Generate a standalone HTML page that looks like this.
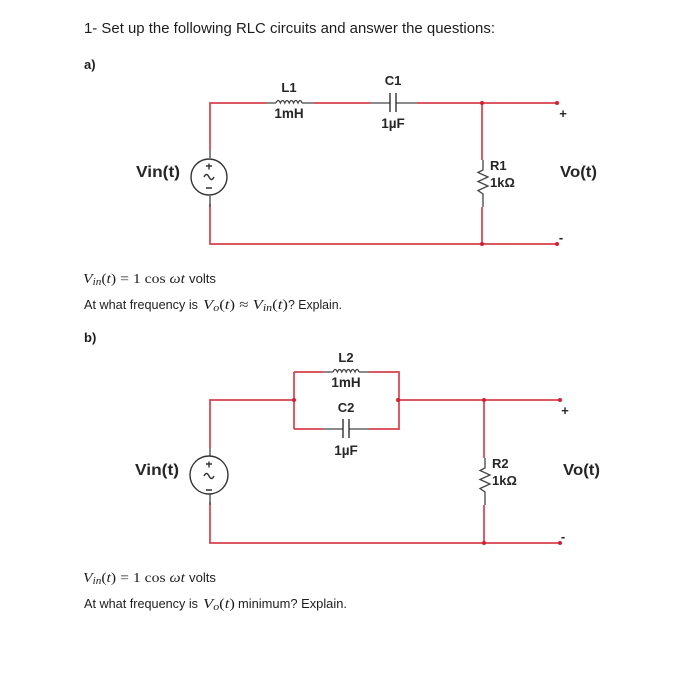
<!DOCTYPE html>
<html><head><meta charset="utf-8"><style>
html,body{margin:0;padding:0;background:#fff;width:697px;height:700px;overflow:hidden}
svg{display:block}
.w{stroke:#d8404c;stroke-width:1.7;fill:none}
.g{stroke:#444;stroke-width:1.3;fill:none}
.b{stroke:#333;stroke-width:1.4;fill:none}
.l{font-family:"Liberation Sans",sans-serif;font-weight:bold;fill:#262626}
.t{font-family:"Liberation Sans",sans-serif;fill:#1f1f1f}
.m{font-family:"Liberation Serif",serif;fill:#1f1f1f}
.i{font-style:italic}
</style></head><body>
<svg width="697" height="700" viewBox="0 0 697 700" xmlns="http://www.w3.org/2000/svg">
<defs><filter id="bl" x="0" y="0" width="100%" height="100%"><feGaussianBlur stdDeviation="0.3"/></filter></defs>
<g filter="url(#bl)">

<text class="t" x="84" y="33" font-size="15" textLength="411" lengthAdjust="spacingAndGlyphs">1- Set up the following RLC circuits and answer the questions:</text>
<text class="t" x="84" y="69" font-size="13" font-weight="bold">a)</text>

<!-- circuit a -->
<path class="w" d="M210 150V103H266M314 103H370M417 103H557M482 103V160M482 207V244M210 204V244H557"/>
<path class="g" d="M266 103H276M302 103H314M370 103H390M396 103H417M210 150V158M210 196V207"/>
<path class="g" d="M276 103q2.200-5 4.400 0q2.200-5 4.400 0q2.200-5 4.400 0q2.200-5 4.400 0q2.200-5 4.400 0q2.200-5 4 0"/>
<path class="b" stroke-width="1.800" d="M390 93V112M396 93V112"/>
<circle class="b" cx="209" cy="177" r="18"/>
<path class="b" d="M206 166h6M209 163.500v6M206 188h6M204 177q2.500-5 5 0t5 0"/>
<path class="g" d="M483 160V170L478 172.500L488 177L478 181.500L488 186L478 190.500L483 194V207"/>
<circle cx="482" cy="103" r="2" fill="#d02030"/><circle cx="557" cy="103" r="2" fill="#d02030"/>
<circle cx="482" cy="244" r="2" fill="#d02030"/><circle cx="557" cy="244" r="2" fill="#d02030"/>
<text class="l" x="289" y="92" font-size="13" text-anchor="middle">L1</text>
<text class="l" x="289" y="118" font-size="13.500" text-anchor="middle">1mH</text>
<text class="l" x="393" y="85" font-size="13" text-anchor="middle">C1</text>
<text class="l" x="393" y="128" font-size="13.500" text-anchor="middle">1µF</text>
<text class="l" x="136" y="177" font-size="16" textLength="44" lengthAdjust="spacingAndGlyphs">Vin(t)</text>
<text class="l" x="490" y="170" font-size="13">R1</text>
<text class="l" x="490" y="187" font-size="13">1kΩ</text>
<text class="l" x="560" y="177" font-size="16" textLength="37" lengthAdjust="spacingAndGlyphs">Vo(t)</text>
<text class="l" x="563" y="118" font-size="13" text-anchor="middle">+</text>
<text class="l" x="561" y="242" font-size="13" text-anchor="middle">-</text>

<text class="m i" x="83" y="283" font-size="14" textLength="102" lengthAdjust="spacingAndGlyphs">V<tspan font-size="10" dy="2">in</tspan><tspan dy="-2" font-style="normal">(</tspan>t<tspan font-style="normal">) = 1 cos </tspan>ωt</text>
<text class="t" x="189" y="283" font-size="13" textLength="27" lengthAdjust="spacingAndGlyphs">volts</text>
<text class="t" x="84" y="309" font-size="13" textLength="114" lengthAdjust="spacingAndGlyphs">At what frequency is</text>
<text class="m i" x="203" y="309" font-size="14" textLength="85" lengthAdjust="spacingAndGlyphs">V<tspan font-size="10" dy="2">o</tspan><tspan dy="-2" font-style="normal">(</tspan>t<tspan font-style="normal">) ≈ </tspan>V<tspan font-size="10" dy="2">in</tspan><tspan dy="-2" font-style="normal">(</tspan>t<tspan font-style="normal">)</tspan></text>
<text class="t" x="288" y="309" font-size="13" textLength="54" lengthAdjust="spacingAndGlyphs">? Explain.</text>
<text class="t" x="84" y="342" font-size="13" font-weight="bold">b)</text>

<!-- circuit b -->
<path class="w" d="M210 448V400H294M294 372V429M294 372H323M369 372H399V429H369M294 429H323M399 400H560M484 400V458M484 505V543M210 502V543H560"/>
<path class="g" d="M323 372H333M359 372H369M323 429H343M349 429H369M210 448V456M210 494V505"/>
<path class="g" d="M333 372q2.200-5 4.400 0q2.200-5 4.400 0q2.200-5 4.400 0q2.200-5 4.400 0q2.200-5 4.400 0q2.200-5 4 0"/>
<path class="b" stroke-width="1.800" d="M343 419V438M349 419V438"/>
<circle class="b" cx="209" cy="475" r="19"/>
<path class="b" d="M206 464h6M209 461.500v6M206 490h6M204 476q2.500-5 5 0t5 0"/>
<path class="g" d="M485 458V468L480 470.500L490 475L480 479.500L490 484L480 488.500L485 492V505"/>
<circle cx="294" cy="400" r="2" fill="#d02030"/><circle cx="398" cy="400" r="2" fill="#d02030"/>
<circle cx="484" cy="400" r="2" fill="#d02030"/><circle cx="560" cy="400" r="2" fill="#d02030"/>
<circle cx="484" cy="543" r="2" fill="#d02030"/><circle cx="560" cy="543" r="2" fill="#d02030"/>
<text class="l" x="346" y="362" font-size="13" text-anchor="middle">L2</text>
<text class="l" x="346" y="387" font-size="13.500" text-anchor="middle">1mH</text>
<text class="l" x="346" y="412" font-size="13" text-anchor="middle">C2</text>
<text class="l" x="346" y="455" font-size="13.500" text-anchor="middle">1µF</text>
<text class="l" x="135" y="475" font-size="16" textLength="44" lengthAdjust="spacingAndGlyphs">Vin(t)</text>
<text class="l" x="492" y="468" font-size="13">R2</text>
<text class="l" x="492" y="485" font-size="13">1kΩ</text>
<text class="l" x="563" y="475" font-size="16" textLength="37" lengthAdjust="spacingAndGlyphs">Vo(t)</text>
<text class="l" x="565" y="415" font-size="13" text-anchor="middle">+</text>
<text class="l" x="563" y="541" font-size="13" text-anchor="middle">-</text>

<text class="m i" x="83" y="582" font-size="14" textLength="102" lengthAdjust="spacingAndGlyphs">V<tspan font-size="10" dy="2">in</tspan><tspan dy="-2" font-style="normal">(</tspan>t<tspan font-style="normal">) = 1 cos </tspan>ωt</text>
<text class="t" x="189" y="582" font-size="13" textLength="27" lengthAdjust="spacingAndGlyphs">volts</text>
<text class="t" x="84" y="608" font-size="13" textLength="114" lengthAdjust="spacingAndGlyphs">At what frequency is</text>
<text class="m i" x="203" y="608" font-size="14" textLength="32" lengthAdjust="spacingAndGlyphs">V<tspan font-size="10" dy="2">o</tspan><tspan dy="-2" font-style="normal">(</tspan>t<tspan font-style="normal">)</tspan></text>
<text class="t" x="238" y="608" font-size="13" textLength="109" lengthAdjust="spacingAndGlyphs">minimum? Explain.</text>
</g>
</svg>
</body></html>
